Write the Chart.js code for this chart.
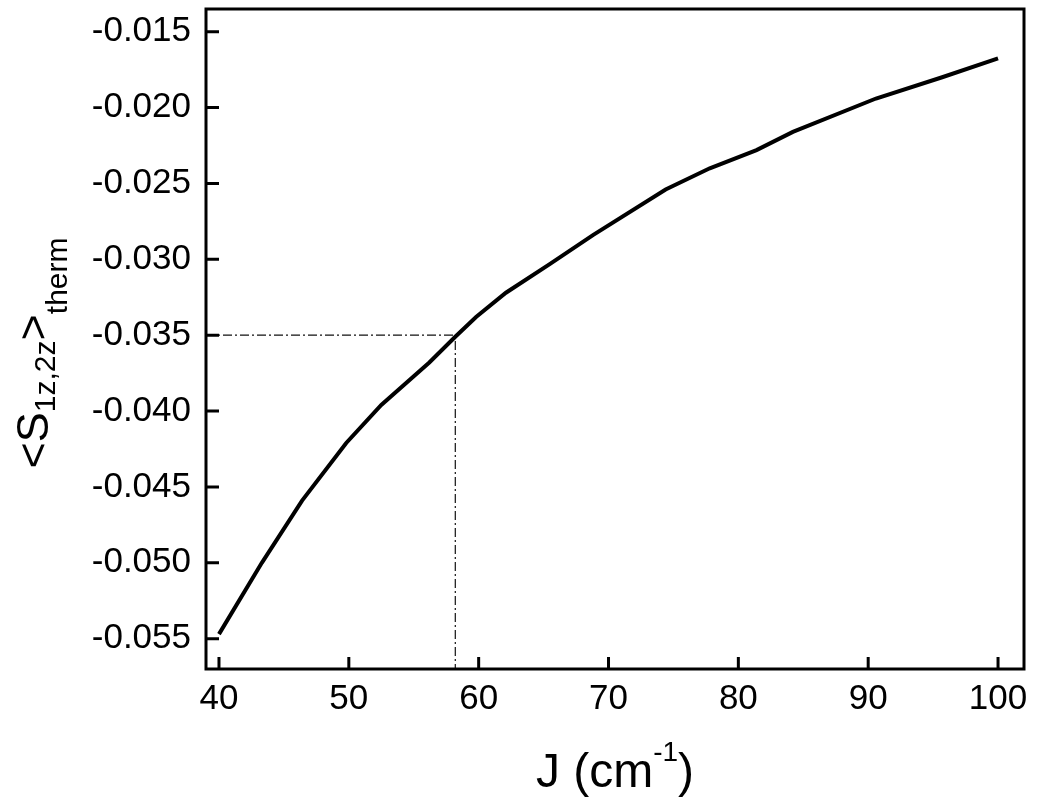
<!DOCTYPE html>
<html><head><meta charset="utf-8">
<script src="https://cdn.jsdelivr.net/npm/chart.js@4.4.0/dist/chart.umd.min.js"></script>
<style>html,body{margin:0;padding:0;background:#fff;}canvas{display:block;}</style>
</head><body>
<canvas id="c" width="1050" height="804" style="width:1050px;height:804px"></canvas>
<script>
// ---- data ----
const jValues = [40, 43.3, 46.4, 49.8, 52.5, 56.2, 58.2, 59.8, 62.1, 65.5, 68.8, 74.4, 77.8, 81.4, 84.2, 90.6, 95.7, 100];
const sValues = [-0.0547, -0.0500, -0.0459, -0.0421, -0.0396, -0.0368, -0.0351, -0.0338, -0.0322, -0.0303, -0.0284, -0.0254, -0.0240, -0.0228, -0.0216, -0.0194, -0.0180, -0.01675];
const xTicks = [40, 50, 60, 70, 80, 90, 100];
const yTicks = [-0.055, -0.050, -0.045, -0.040, -0.035, -0.030, -0.025, -0.020, -0.015];
const xRange = [39, 102];
const yRange = [-0.057, -0.0135];
const refJ = 58.2;
const refS = -0.035;
const refX = [xRange[0], refJ, refJ];
const refY = [refS, refS, yRange[0]];
const xTitle = [{t: 'J (cm', s: 48, dy: 0}, {t: '-1', s: 28, dy: -26}, {t: ')', s: 48, dy: 0}];
const yTitle = [{t: '<S', s: 45, dy: 0}, {t: '1z,2z', s: 30, dy: 7}, {t: '>', s: 45, dy: 0}, {t: 'therm', s: 30, dy: 19}];

const FAMILY = '"Liberation Sans", Arial, Helvetica, sans-serif';

function drawRich(ctx, parts, cx, cy) {
  let total = 0;
  parts.forEach(p => { ctx.font = p.s + 'px ' + FAMILY; p.w = ctx.measureText(p.t).width; total += p.w; });
  let x = cx - total / 2;
  ctx.textBaseline = 'alphabetic';
  ctx.textAlign = 'left';
  parts.forEach(p => { ctx.font = p.s + 'px ' + FAMILY; ctx.fillText(p.t, x, cy + p.dy); x += p.w; });
}

const framePlugin = {
  id: 'frame',
  afterDraw(chart) {
    const {ctx, chartArea: a, scales} = chart;
    ctx.save();
    ctx.strokeStyle = '#000';
    ctx.lineWidth = 3;
    ctx.strokeRect(a.left, a.top, a.right - a.left, a.bottom - a.top);
    ctx.beginPath();
    scales.x.ticks.forEach(t => {
      const px = scales.x.getPixelForValue(t.value);
      ctx.moveTo(px, a.bottom); ctx.lineTo(px, a.bottom - 12);
    });
    scales.y.ticks.forEach(t => {
      const py = scales.y.getPixelForValue(t.value);
      ctx.moveTo(a.left, py); ctx.lineTo(a.left + 13, py);
    });
    ctx.stroke();
    ctx.fillStyle = '#000';
    drawRich(ctx, xTitle, (a.left + a.right) / 2, 787);
    ctx.translate(48, (a.top + a.bottom) / 2 + 14);
    ctx.rotate(-Math.PI / 2);
    drawRich(ctx, yTitle, 0, 0);
    ctx.restore();
  }
};

new Chart(document.getElementById('c'), {
  type: 'line',
  data: {
    datasets: [
      {data: jValues.map((x, i) => ({x, y: sValues[i]})), borderColor: '#000', borderWidth: 4, pointRadius: 0, tension: 0, fill: false},
      {data: refX.map((x, i) => ({x, y: refY[i]})), borderColor: '#111', borderWidth: 1.2, borderDash: [9, 3, 2, 3], pointRadius: 0, tension: 0, fill: false}
    ]
  },
  options: {
    responsive: false, animation: false, devicePixelRatio: 1,
    layout: {padding: {top: 9, right: 26, left: 0, bottom: 0}},
    plugins: {legend: {display: false}, tooltip: {enabled: false}},
    scales: {
      x: {
        type: 'linear', min: xRange[0], max: xRange[1],
        afterBuildTicks: s => { s.ticks = xTicks.map(v => ({value: v})); },
        afterFit: s => { s.height = 135; s.paddingLeft = 0; s.paddingRight = 0; },
        grid: {display: false, drawTicks: false}, border: {display: false},
        ticks: {font: {family: FAMILY, size: 35}, color: '#000', padding: 9, maxRotation: 0, autoSkip: false, callback: v => String(v)}
      },
      y: {
        type: 'linear', min: yRange[0], max: yRange[1],
        afterBuildTicks: s => { s.ticks = yTicks.map(v => ({value: v})); },
        afterFit: s => { s.width = 206; s.paddingTop = 0; s.paddingBottom = 0; },
        grid: {display: false, drawTicks: false}, border: {display: false},
        ticks: {font: {family: FAMILY, size: 35}, color: '#000', padding: 15, autoSkip: false, callback: v => v.toFixed(3)}
      }
    }
  },
  plugins: [framePlugin]
});
</script>
</body></html>
